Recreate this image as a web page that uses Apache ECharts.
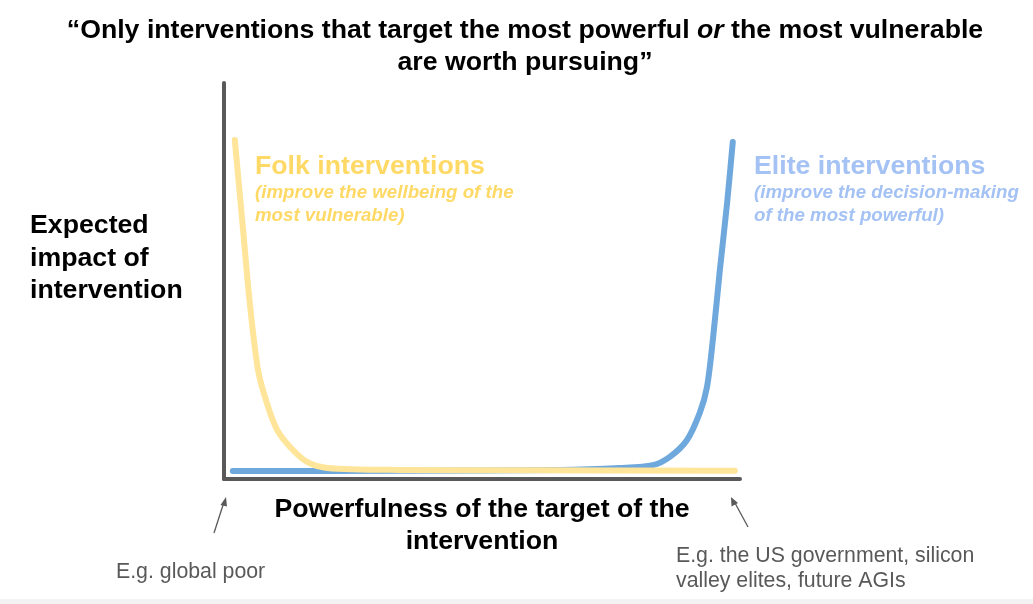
<!DOCTYPE html>
<html><head><meta charset="utf-8">
<script src="https://cdn.jsdelivr.net/npm/echarts@6/dist/echarts.min.js"></script>
<style>html,body{margin:0;padding:0;background:#fff}#c{width:1033px;height:604px}</style>
</head><body><div id="c"></div>
<script>
// Folk interventions curve: [powerfulness, expected impact]
const folkX = [2.1, 3.7, 5.0, 6.6, 8.3, 10.3, 12.8, 16.1, 20.0, 34.0, 60.0, 99.0];
const folkY = [85.6, 62.9, 44.4, 27.5, 19.2, 12.4, 8.1, 4.3, 2.8, 2.3, 2.2, 2.1];
// Elite interventions curve
const eliteX = [1.7, 34.0, 65.0, 76.7, 83.1, 86.4, 89.7, 92.2, 93.6, 94.8, 96.1, 97.5, 98.6];
const eliteY = [2.0, 2.1, 2.3, 2.8, 3.5, 5.6, 9.8, 16.7, 23.2, 35.9, 52.8, 69.7, 85.1];

const titleLines = ["“Only interventions that target the most powerful ", "or", " the most vulnerable", "are worth pursuing”"];
const yLabel = "Expected\nimpact of\nintervention";
const xLabel = "Powerfulness of the target of the\nintervention";
const folkTitle = "Folk interventions";
const folkSub = "(improve the wellbeing of the\nmost vulnerable)";
const eliteTitle = "Elite interventions";
const eliteSub = "(improve the decision-making\nof the most powerful)";
const noteLeft = "E.g. global poor";
const noteRight = "E.g. the US government, silicon\nvalley elites, future AGIs";

const zip = (a, b) => a.map((v, i) => [v, b[i]]);
const FONT = '"Liberation Sans", Arial, sans-serif';
const BIG = 26.7, SUB = 18.7, NOTE = 21.3;
const chart = echarts.init(document.getElementById('c'), null, {renderer: 'canvas'});

chart.setOption({
  animation: false,
  backgroundColor: '#fff',
  grid: {left: 224, top: 83, width: 516, height: 396},
  xAxis: {type: 'value', min: 0, max: 100,
    axisLine: {show: true, onZero: false, lineStyle: {color: '#595959', width: 4}},
    axisTick: {show: false}, axisLabel: {show: false}, splitLine: {show: false}},
  yAxis: {type: 'value', min: 0, max: 100,
    axisLine: {show: true, onZero: false, lineStyle: {color: '#595959', width: 4}},
    axisTick: {show: false}, axisLabel: {show: false}, splitLine: {show: false}},
  series: [
    {type: 'line', data: zip(eliteX, eliteY), smooth: 0.3, showSymbol: false, z: 2,
      lineStyle: {color: '#6FA8DC', width: 6, cap: 'round', join: 'round'}},
    {type: 'line', data: zip(folkX, folkY), smooth: 0.3, showSymbol: false, z: 3,
      lineStyle: {color: '#FFE599', width: 6, cap: 'round', join: 'round'}}
  ],
  graphic: [
    {type: 'text', x: 525, y: 15, style: {
      text: '{b|' + titleLines[0] + '}{i|' + titleLines[1] + '}{b|' + titleLines[2] + '}\n{b|' + titleLines[3] + '}',
      align: 'center', lineHeight: 32,
      rich: {
        b: {fontFamily: FONT, fontSize: BIG, fontWeight: 'bold', fill: '#000', lineHeight: 32},
        i: {fontFamily: FONT, fontSize: BIG, fontWeight: 'bold', fontStyle: 'italic', fill: '#000', lineHeight: 32}
      }}},
    {type: 'text', x: 30, y: 209.5, style: {text: yLabel, fontFamily: FONT, fontSize: BIG, fontWeight: 'bold', fill: '#000', lineHeight: 32.5}},
    {type: 'text', x: 482, y: 494, style: {text: xLabel, fontFamily: FONT, fontSize: BIG, fontWeight: 'bold', fill: '#000', lineHeight: 32, align: 'center'}},
    {type: 'text', x: 255, y: 152, style: {text: folkTitle, fontFamily: FONT, fontSize: BIG, fontWeight: 'bold', fill: '#FFD966', lineHeight: 30}},
    {type: 'text', x: 255, y: 181.5, style: {text: folkSub, fontFamily: FONT, fontSize: SUB, fontWeight: 'bold', fontStyle: 'italic', fill: '#FFD966', lineHeight: 23}},
    {type: 'text', x: 754, y: 152, style: {text: eliteTitle, fontFamily: FONT, fontSize: BIG, fontWeight: 'bold', fill: '#A4C2F4', lineHeight: 30}},
    {type: 'text', x: 754, y: 181.5, style: {text: eliteSub, fontFamily: FONT, fontSize: SUB, fontWeight: 'bold', fontStyle: 'italic', fill: '#A4C2F4', lineHeight: 23}},
    {type: 'text', x: 116, y: 559.5, style: {text: noteLeft, fontFamily: FONT, fontSize: NOTE, fill: '#595959', lineHeight: 25}},
    {type: 'text', x: 676, y: 544, style: {text: noteRight, fontFamily: FONT, fontSize: NOTE, fill: '#595959', lineHeight: 25}},
    {type: 'line', shape: {x1: 214, y1: 533, x2: 224, y2: 502}, style: {stroke: '#595959', lineWidth: 1.3}},
    {type: 'polygon', shape: {points: [[226, 497], [220.5, 505], [227, 506.5]]}, style: {fill: '#595959'}},
    {type: 'line', shape: {x1: 748, y1: 527, x2: 735, y2: 503}, style: {stroke: '#595959', lineWidth: 1.3}},
    {type: 'polygon', shape: {points: [[731, 497], [731.5, 506.5], [738, 503]]}, style: {fill: '#595959'}},
    {type: 'rect', shape: {x: 0, y: 599, width: 1033, height: 5}, style: {fill: '#F3F3F3'}}
  ]
});
</script></body></html>
